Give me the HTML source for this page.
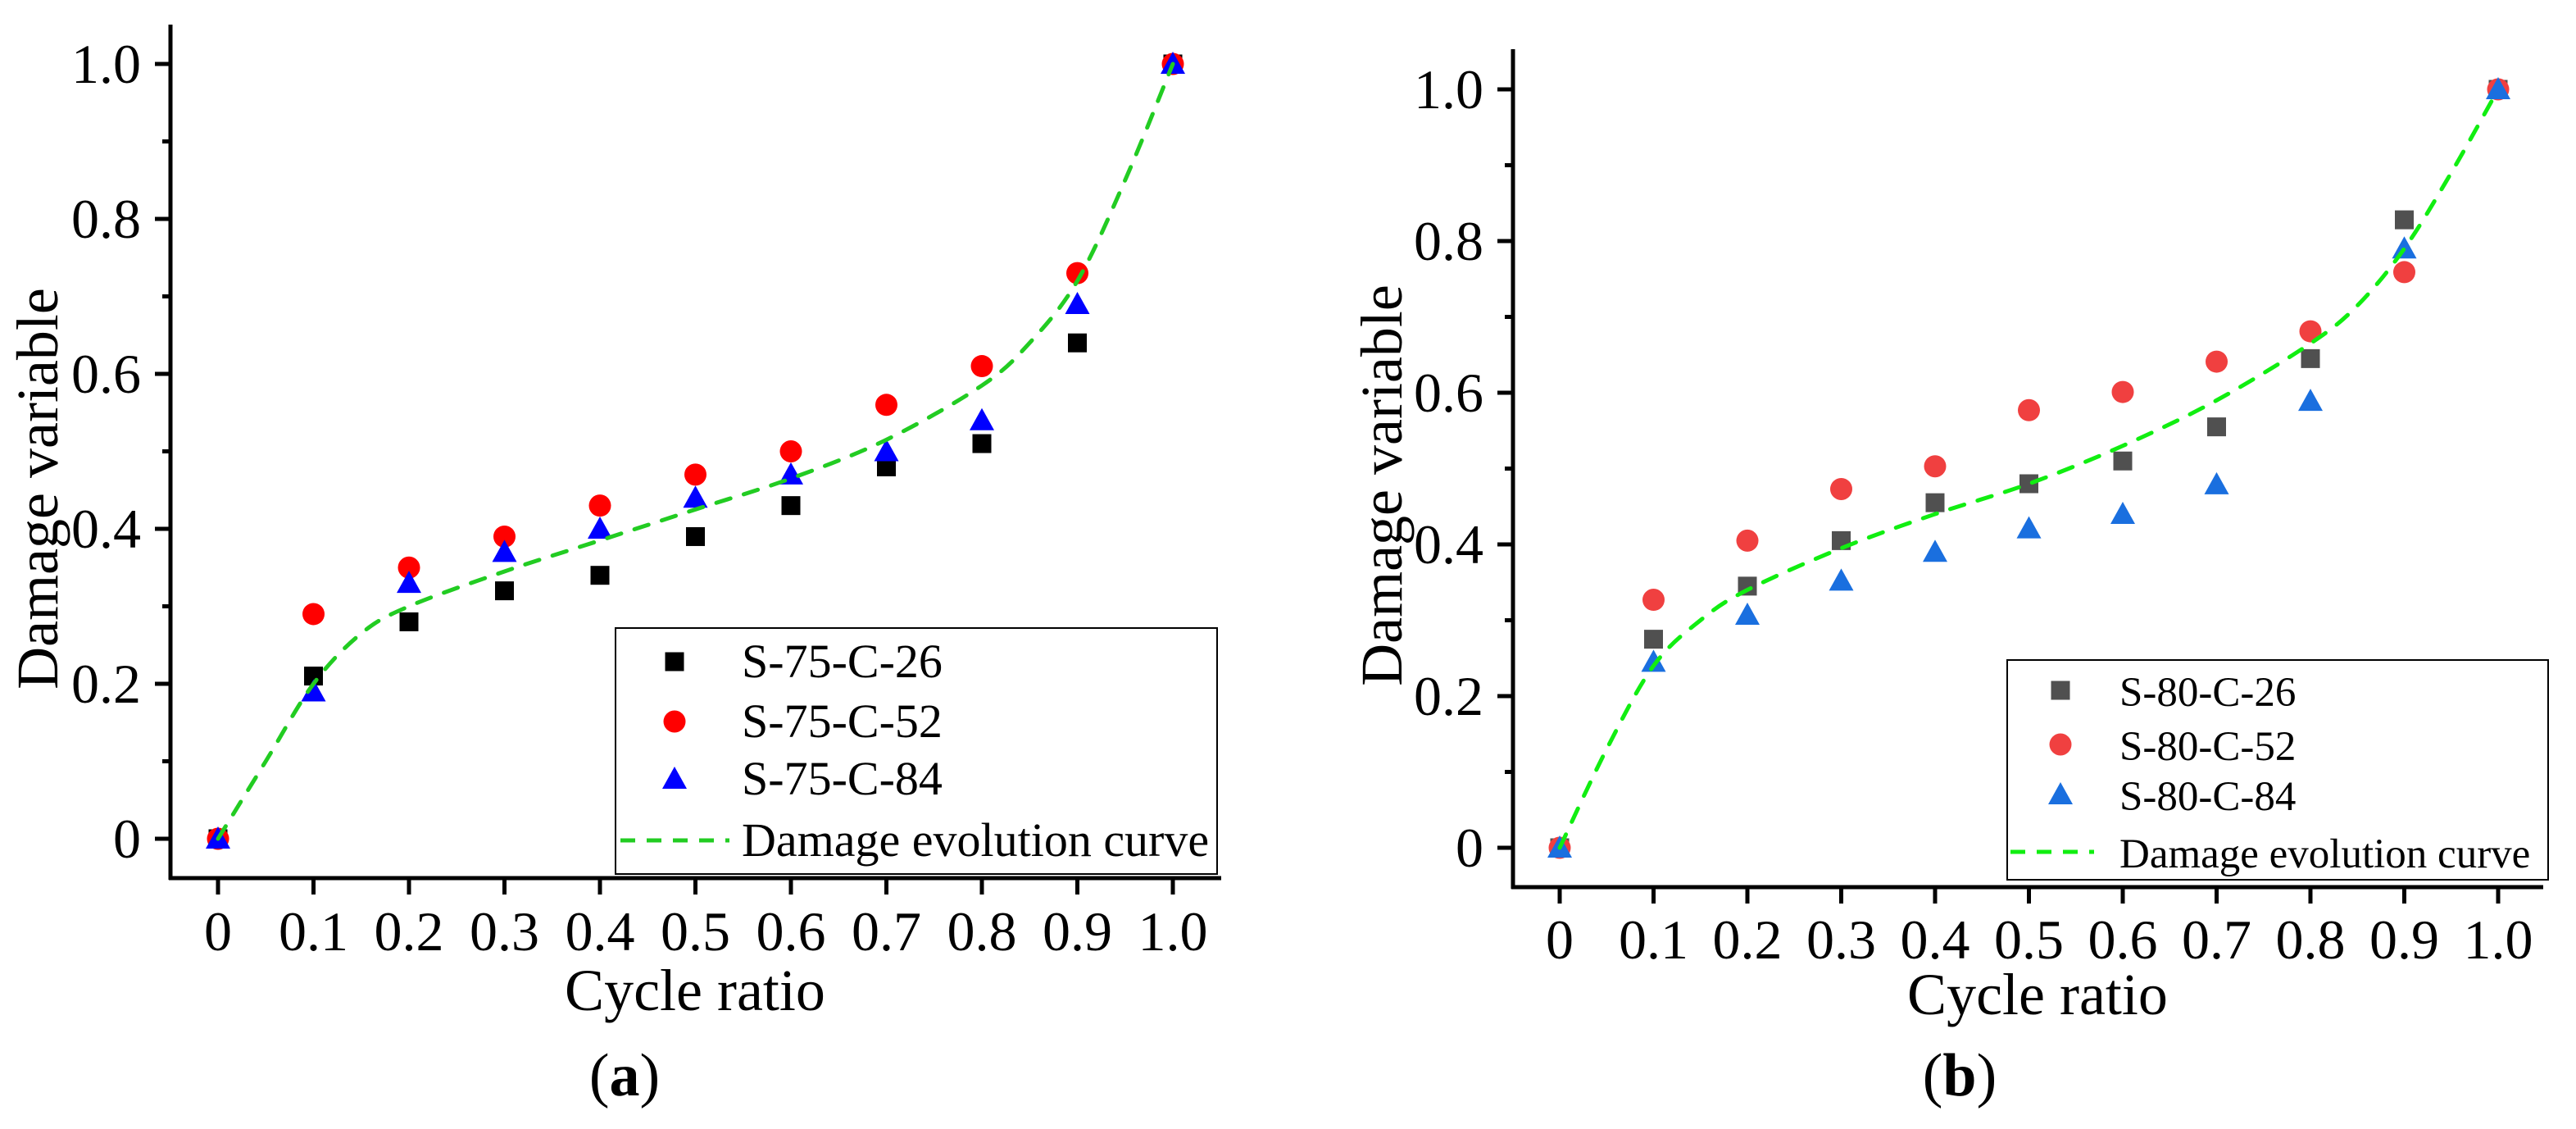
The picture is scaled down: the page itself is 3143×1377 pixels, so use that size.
<!DOCTYPE html>
<html><head><meta charset="utf-8"><style>
html,body{margin:0;padding:0;background:#fff;}
svg{display:block;}
svg text{font-family:"Liberation Serif","Times New Roman",Times,serif;}
</style></head><body>
<svg id="fig" width="3143" height="1377" viewBox="0 0 3143 1377" xmlns="http://www.w3.org/2000/svg" font-family="Liberation Serif, Times New Roman, serif"></svg>
<script>
// ---- data panel (a)
const cycleRatios = [0,0.1,0.2,0.3,0.4,0.5,0.6,0.7,0.8,0.9,1.0];
const xTickLabels = ["0","0.1","0.2","0.3","0.4","0.5","0.6","0.7","0.8","0.9","1.0"];
const yTickValues = [0,0.2,0.4,0.6,0.8,1.0];
const yTickLabels = ["0","0.2","0.4","0.6","0.8","1.0"];
const aC26 = [0,0.21,0.28,0.32,0.34,0.39,0.43,0.48,0.51,0.64,1.0];
const aC52 = [0,0.29,0.35,0.39,0.43,0.47,0.50,0.56,0.61,0.73,1.0];
const aC84 = [0,0.19,0.33,0.37,0.40,0.44,0.47,0.50,0.54,0.69,1.0];
const curveX = [0,0.05,0.1,0.15,0.2,0.3,0.4,0.5,0.6,0.7,0.8,0.85,0.9,0.95,1.0];
const aCurveY = [0,0.10,0.20,0.265,0.30,0.345,0.385,0.425,0.465,0.515,0.585,0.64,0.72,0.85,1.0];
// ---- data panel (b)
const bC26 = [0,0.275,0.345,0.405,0.455,0.48,0.51,0.555,0.645,0.828,1.0];
const bC52 = [0,0.327,0.405,0.473,0.503,0.577,0.601,0.641,0.681,0.759,1.0];
const bC84 = [0,0.245,0.307,0.352,0.39,0.421,0.44,0.479,0.589,0.79,1.0];
const bCurveY = [0,0.13,0.24,0.30,0.34,0.395,0.44,0.48,0.53,0.59,0.665,0.715,0.79,0.89,1.0];

const NS="http://www.w3.org/2000/svg";
const FONT='Liberation Serif, Times New Roman, serif';
const svg=document.getElementById('fig');
function el(tag,attrs,parent,text){const e=document.createElementNS(NS,tag);for(const k in attrs)e.setAttribute(k,attrs[k]);if(tag==='text')e.setAttribute('font-family',FONT);if(text!==undefined)e.textContent=text;(parent||svg).appendChild(e);return e;}

function panel(cfg){
  const g=el('g',{});
  
  
  const X=v=>cfg.x0+(cfg.x1-cfg.x0)*v;
  const Y=v=>cfg.y0+(cfg.y1-cfg.y0)*v;
  const ya=el('line',{x1:cfg.ax,y1:cfg.top,x2:cfg.ax,y2:cfg.axy+2,stroke:'#000','stroke-width':5},g);
  
  
  const xa=el('line',{x1:cfg.ax-2,y1:cfg.axy,x2:cfg.right,y2:cfg.axy,stroke:'#000','stroke-width':5},g);
  
  
  for(let i=0;i<=10;i++){
    const v=i/10, major=i%2===0;
    el('line',{x1:cfg.ax-(major?19:10),y1:Y(v),x2:cfg.ax,y2:Y(v),stroke:'#000','stroke-width':5},g);
  }
  yTickValues.forEach((v,i)=>{
    const t=el('text',{x:cfg.ax-36,y:Y(v)+23,'font-size':68,'text-anchor':'end'},g,yTickLabels[i]);
    
    
  });
  cycleRatios.forEach((v,i)=>{
    el('line',{x1:X(v),y1:cfg.axy,x2:X(v),y2:cfg.axy+20,stroke:'#000','stroke-width':5},g);
    const t=el('text',{x:X(v),y:cfg.xlabBase,'font-size':68,'text-anchor':'middle'},g,xTickLabels[i]);
    
    
  });
  const xt=el('text',{x:cfg.xtX,y:cfg.xtY,'font-size':72,'text-anchor':'middle'},g,'Cycle ratio');
  
  
  const yt=el('text',{x:0,y:0,'font-size':72,'text-anchor':'middle',transform:`translate(${cfg.ytX},${cfg.ytY}) rotate(-90)`},g,'Damage variable');
  
  
  const cap=el('text',{x:cfg.capX,y:cfg.capY,'font-size':74,'text-anchor':'middle'},g);
  
  
  el('tspan',{},cap,'(');el('tspan',{'font-weight':'bold'},cap,cfg.id);el('tspan',{},cap,')');

  function marker(type,cx,cy,color,parent){
    if(type==='sq') return el('rect',{x:cx-11.5,y:cy-11.5,width:23,height:23,fill:color},parent);
    if(type==='ci') return el('circle',{cx:cx,cy:cy,r:13.5,fill:color},parent);
    return el('polygon',{points:`${cx},${cy-15} ${cx-15},${cy+12} ${cx+15},${cy+12}`,fill:color},parent);
  }
  const series=[['sq',cfg.s1,cfg.c1,'series-c26'],['ci',cfg.s2,cfg.c2,'series-c52'],['tr',cfg.s3,cfg.c3,'series-c84']];
  series.forEach(([type,vals,color,name])=>{
    const sg=el('g',{},g);
    
    
    vals.forEach((v,i)=>{
      const m=marker(type,X(cycleRatios[i]),Y(v),color,sg);
      
      
    });
  });
  const pts=curveX.map((x,i)=>[X(x),Y(cfg.curve[i])]);
  let d=`M${pts[0][0]},${pts[0][1]}`;
  for(let i=0;i<pts.length-1;i++){
    const p0=pts[Math.max(0,i-1)],p1=pts[i],p2=pts[i+1],p3=pts[Math.min(pts.length-1,i+2)];
    d+=` C${p1[0]+(p2[0]-p0[0])/6},${p1[1]+(p2[1]-p0[1])/6} ${p2[0]-(p3[0]-p1[0])/6},${p2[1]-(p3[1]-p1[1])/6} ${p2[0]},${p2[1]}`;
  }
  const cv=el('path',{d:d,fill:'none',stroke:cfg.cg,'stroke-width':5,'stroke-dasharray':'18 17','stroke-linecap':'round'},g);
  
  
  const L=cfg.leg;
  const lg=el('g',{},g);
  
  
  el('rect',{x:L.x,y:L.y,width:L.w,height:L.h,fill:'#fff',stroke:'#000','stroke-width':2},lg);
  const labels=cfg.labels;
  series.forEach(([type,vals,color,name],i)=>{
    const m=marker(type,L.mx,L.rows[i],color,lg);
    
    
    const t=el('text',{x:L.tx,y:L.rows[i]+19,'font-size':L.fs},lg,labels[i]);
    
    
  });
  const ll=el('line',{x1:L.lx1,y1:L.rows[3],x2:L.lx2,y2:L.rows[3],stroke:cfg.cg,'stroke-width':5,'stroke-dasharray':'18 14'},lg);
  
  
  const lt=el('text',{x:L.tx,y:L.rows[3]+19,'font-size':L.fs},lg,'Damage evolution curve');
  
  
}

panel({id:'a',x0:266,x1:1431,y0:1023,y1:78,ax:208,top:30,axy:1071,right:1490,xlabBase:1159,
  xtX:848,xtY:1232,ytX:70,ytY:596,capX:762,capY:1336,
  s1:aC26,s2:aC52,s3:aC84,c1:'#000',c2:'#ff0000',c3:'#0000ff',curve:aCurveY,cg:'#22cc22',
  labels:['S-75-C-26','S-75-C-52','S-75-C-84'],
  leg:{x:751,y:766,w:734,h:300,mx:823,tx:905,lx1:757,lx2:890,fs:58,rows:[807,880,950,1025]}});
panel({id:'b',x0:1903,x1:3048,y0:1034,y1:109,ax:1846,top:60,axy:1082,right:3103,xlabBase:1169,
  xtX:2486,xtY:1237,ytX:1710,ytY:592,capX:2391,capY:1336,
  s1:bC26,s2:bC52,s3:bC84,c1:'#505050',c2:'#f04040',c3:'#1a6fdf',curve:bCurveY,cg:'#11ee11',
  labels:['S-80-C-26','S-80-C-52','S-80-C-84'],
  leg:{x:2449,y:805,w:660,h:268,mx:2514,tx:2586,lx1:2453,lx2:2555,fs:51,rows:[842,908,969,1039]}});
</script>
</body></html>
